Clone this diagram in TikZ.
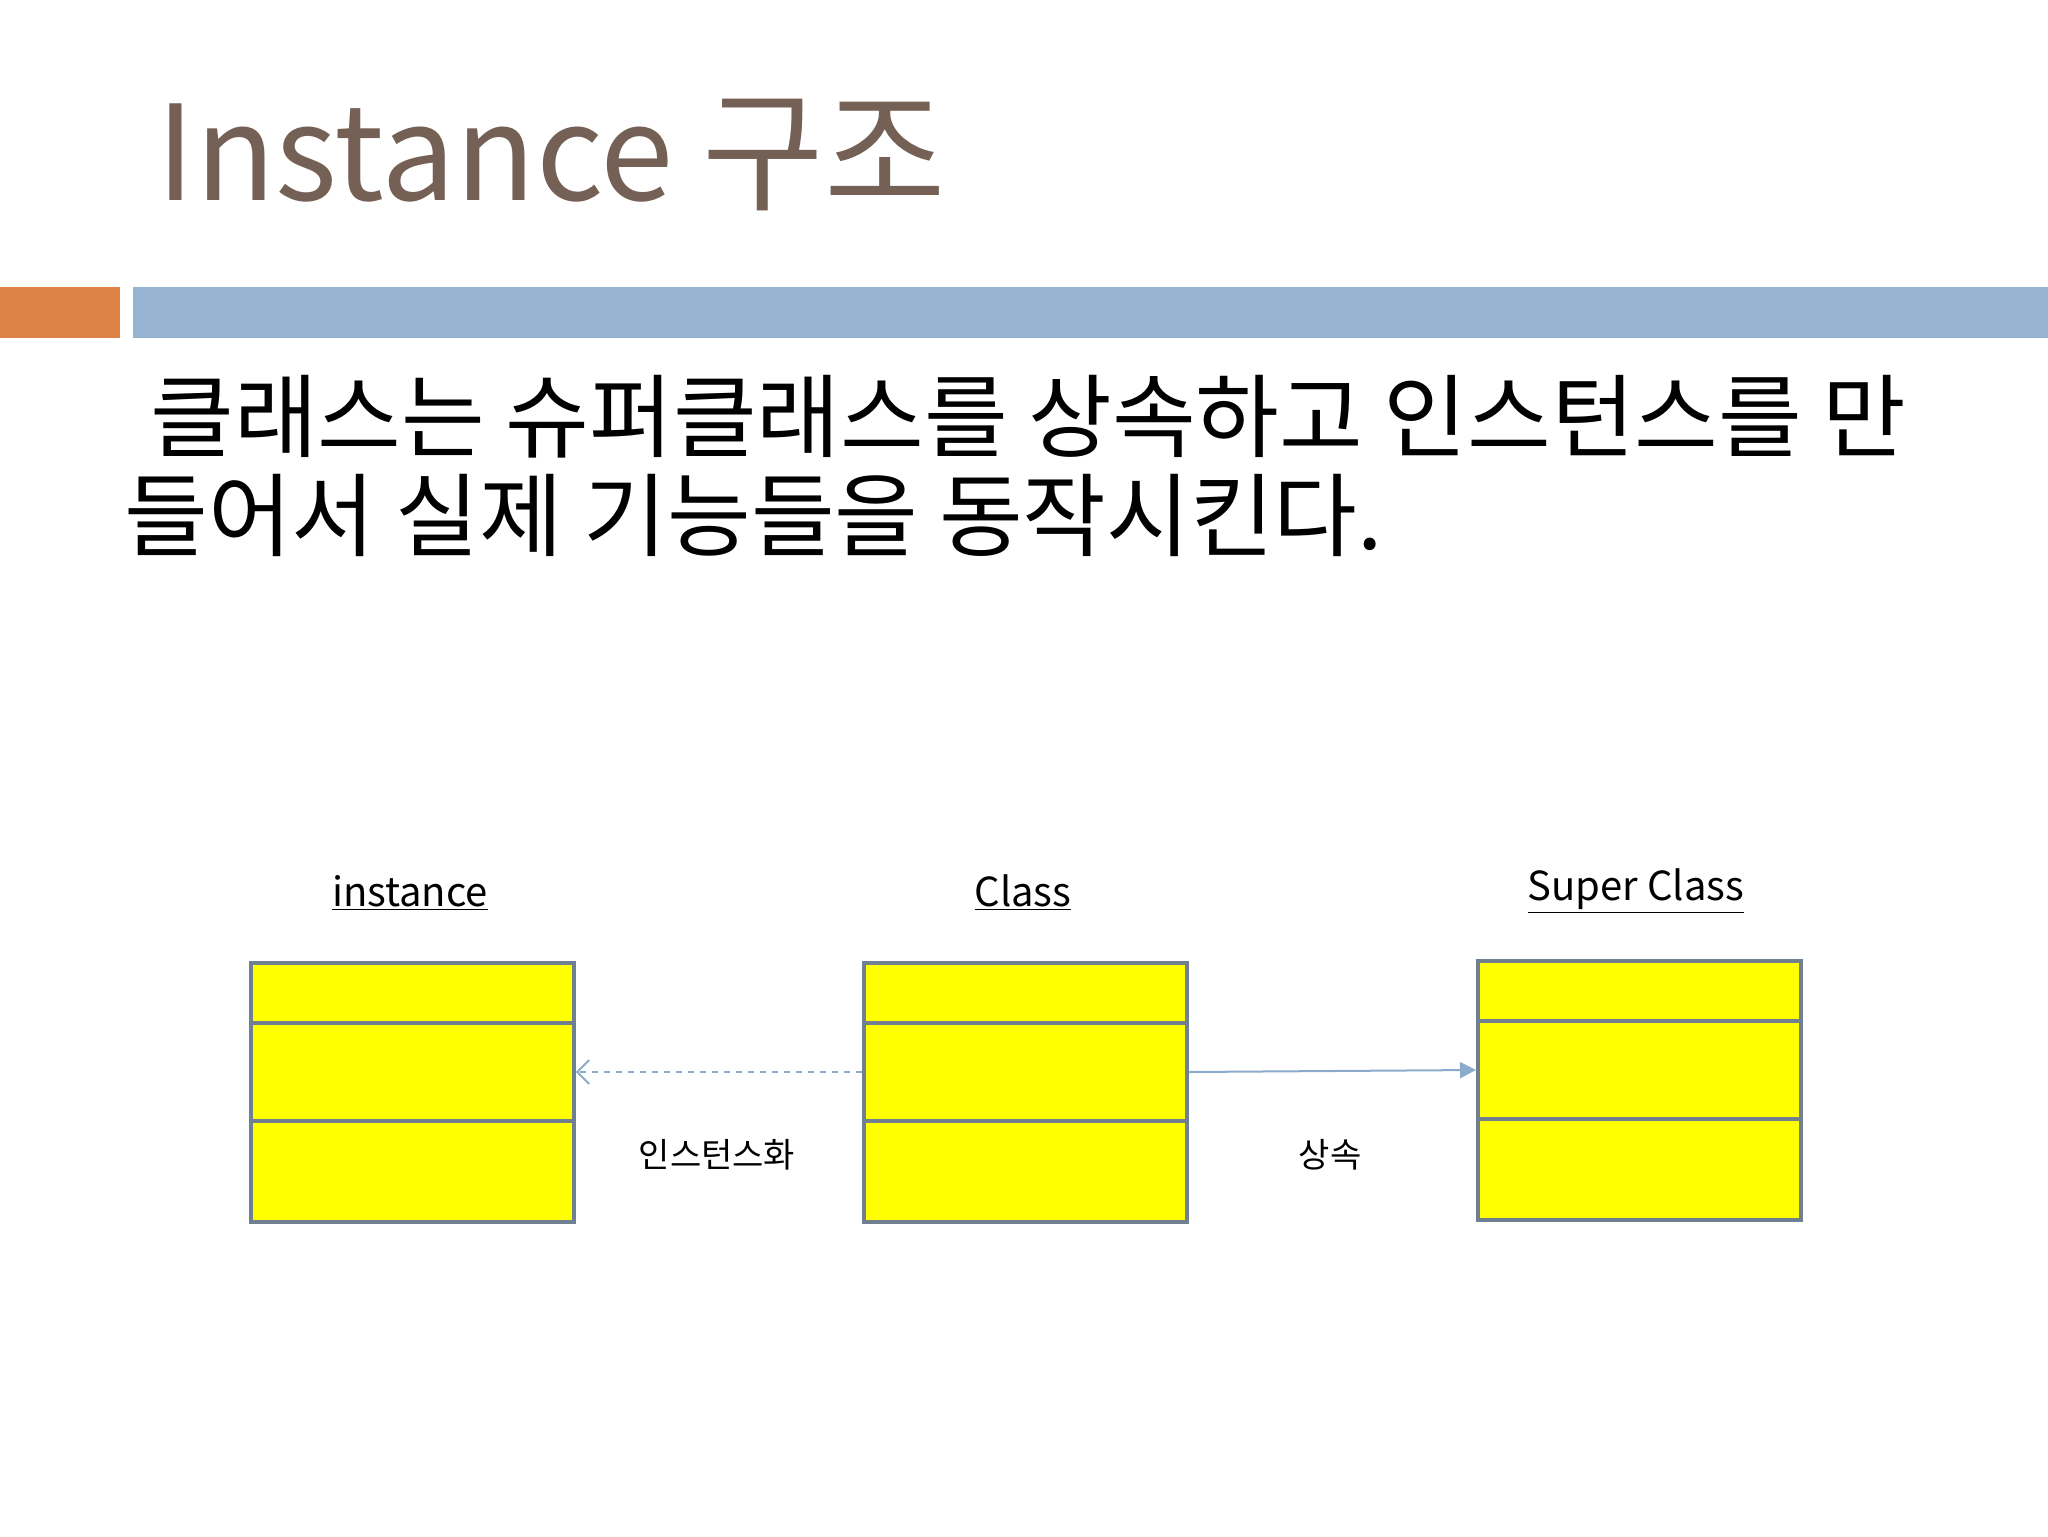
\documentclass[tikz,border=0pt]{standalone}
\usepackage{fontspec}
\setmainfont{Noto Sans CJK KR}
\usetikzlibrary{arrows.meta,calc}
\definecolor{titlebrown}{RGB}{117,96,86}
\definecolor{barorange}{RGB}{223,130,70}
\definecolor{barblue}{RGB}{150,180,209}
\definecolor{boxgray}{RGB}{112,128,144}
\definecolor{boxyellow}{RGB}{255,255,0}
\definecolor{linkblue}{RGB}{140,170,203}
\tikzset{
  umlbox/.style={draw=boxgray, line width=1.9pt, fill=boxyellow, inner sep=0pt,
    minimum width=161.5pt, minimum height=129.5pt, anchor=north west},
  divider/.style={draw=boxgray, line width=1.9pt},
  classname/.style={anchor=base, inner sep=0pt, font=\fontsize{20}{24}\selectfont},
  linklabel/.style={inner sep=0pt, font=\fontsize{17}{20}\selectfont},
  instarrow/.style={draw=linkblue, line width=1pt, dashed, -{Straight Barb[length=6pt,width=12pt]}},
  inharrow/.style={draw=linkblue, line width=1pt, -{Triangle[length=8pt,width=8pt]}}
}
\begin{document}
\begin{tikzpicture}[x=0.5pt,y=-0.5pt]
\useasboundingbox (0,0) rectangle (2048,1536);
\fill[white] (0,0) rectangle (2048,1536);
% title and bars
\node[anchor=base west, inner sep=0pt, text=titlebrown, font=\fontsize{66}{72}\selectfont] (title) at (156,200) {Instance 구조};
\fill[barorange] (0,287) rectangle (120,338);
\fill[barblue] (133,287) rectangle (2048,338);
\node[anchor=base west, inner sep=0pt, font=\fontsize{45.5}{50}\selectfont] (line1) at (150,450) {클래스는 슈퍼클래스를 상속하고 인스턴스를 만};
\node[anchor=base west, inner sep=0pt, font=\fontsize{45.5}{50}\selectfont] (line2) at (124,549) {들어서 실제 기능들을 동작시킨다.};
% class boxes
\node[umlbox] (inst) at (249,961) {};
\node[umlbox] (cls) at (862,961) {};
\node[umlbox] (sup) at (1476,959) {};
\foreach \b in {inst,cls,sup} {
  \draw[divider] ($(\b.north west)+(0,62)$) -- ($(\b.north east)+(0,62)$);
  \draw[divider] ($(\b.north west)+(0,160)$) -- ($(\b.north east)+(0,160)$);
}
\node[classname] (instname) at (410,906) {\underline{instance}};
\node[classname] (clsname) at (1023,906) {\underline{Class}};
\node[classname] (supname) at (1636,900) {\underline{Super Class}};
% links
\draw[instarrow] ($(cls.north west)+(0,111)$) -- ($(inst.north east)+(0,111)$);
\draw[inharrow] ($(cls.north east)+(0,111)$) -- ($(sup.north west)+(0,111)$);
\node[linklabel] (instlink) at (717,1155) {인스턴스화};
\node[linklabel] (inhlink) at (1330,1155) {상속};
\end{tikzpicture}
\end{document}
